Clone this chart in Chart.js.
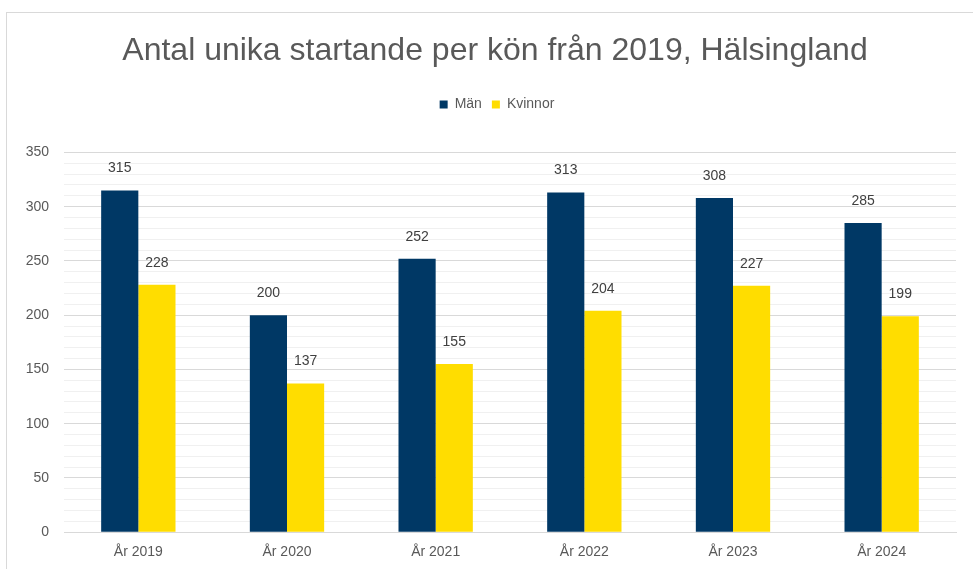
<!DOCTYPE html>
<html>
<head>
<meta charset="utf-8">
<script src="https://cdn.jsdelivr.net/npm/chart.js@4"></script>
<style>
  body { margin: 0; background: #fff; }
  #frame { position: absolute; left: 6px; top: 12px; width: 1000px; height: 600px; border: 1px solid #d9d9d9; }
  #wrap { position: absolute; left: 0; top: 0; width: 973px; height: 569px; }
</style>
</head>
<body>
<div id="frame"></div>
<div id="wrap"><canvas id="chart"></canvas></div>
<script>
let years = ["År 2019", "År 2020", "År 2021", "År 2022", "År 2023", "År 2024"];
let men = [315, 200, 252, 313, 308, 285];
let women = [228, 137, 155, 204, 227, 199];

// draws the value above each bar
let valueLabels = {
  id: "valueLabels",
  afterDatasetsDraw(chart) {
    let ctx = chart.ctx;
    ctx.save();
    ctx.font = "14px 'Liberation Sans', Arial, sans-serif";
    ctx.fillStyle = "#404040";
    ctx.textAlign = "center";
    ctx.textBaseline = "middle";
    chart.data.datasets.forEach((ds, i) => {
      chart.getDatasetMeta(i).data.forEach((bar, j) => {
        ctx.fillText(ds.data[j], bar.x, bar.y - 22);
      });
    });
    ctx.restore();
  },
};

// extra space under the legend, and title/legend nudged right a bit
let legendGap = {
  id: "legendGap",
  beforeInit(chart) {
    let fit = chart.legend.fit;
    chart.legend.fit = function () {
      fit.bind(chart.legend)();
      this.height += 31;
    };
  },
  afterLayout(chart) {
    chart.titleBlock.left += 22;
    chart.legend.left += 26;
  },
};

new Chart("chart", {
  type: "bar",
  data: {
    labels: years,
    datasets: [
      { label: "Män", data: men, backgroundColor: "#003865" },
      { label: "Kvinnor", data: women, backgroundColor: "#ffdd00" },
    ],
  },
  options: {
    responsive: true,
    maintainAspectRatio: false,
    animation: false,
    categoryPercentage: 0.5,
    barPercentage: 1,
    layout: { padding: { top: 32, left: 12, right: 17, bottom: 4 } },
    plugins: {
      title: {
        display: true,
        text: "Antal unika startande per kön från 2019, Hälsingland",
        color: "#595959",
        font: { family: "'Liberation Sans', Arial, sans-serif", size: 32, weight: "normal" },
        padding: { top: 0, bottom: 17 },
      },
      legend: {
        labels: {
          boxWidth: 8,
          boxHeight: 8,
          padding: 10,
          color: "#595959",
          font: { family: "'Liberation Sans', Arial, sans-serif", size: 14 },
        },
      },
      tooltip: { enabled: false },
    },
    scales: {
      x: {
        grid: { display: false },
        border: { color: "#d9d9d9" },
        ticks: { color: "#595959", font: { family: "'Liberation Sans', Arial, sans-serif", size: 14 }, padding: 4 },
      },
      y: {
        min: 0,
        max: 350,
        border: { display: false },
        afterFit: (scale) => { scale.width = 52; },
        grid: {
          drawTicks: false,
          color: (c) => (c.tick.value % 50 === 0 ? "#d9d9d9" : "#f0f0f0"),
        },
        ticks: {
          stepSize: 10,
          autoSkip: false,
          padding: 15,
          color: "#595959",
          font: { family: "'Liberation Sans', Arial, sans-serif", size: 14 },
          callback: (v) => (v % 50 === 0 ? v : ""),
        },
      },
    },
  },
  plugins: [valueLabels, legendGap],
});
</script>
</body>
</html>
